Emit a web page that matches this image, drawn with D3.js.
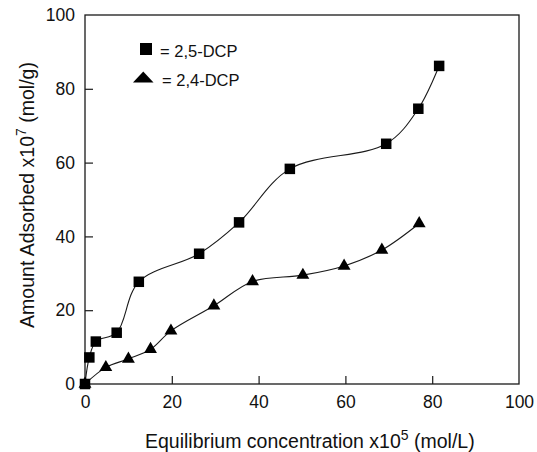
<!DOCTYPE html>
<html>
<head>
<meta charset="utf-8">
<script src="https://cdn.jsdelivr.net/npm/d3@7"></script>
<style>
  html, body { margin: 0; padding: 0; background: #fff; }
  svg text { font-family: "Liberation Sans", Arial, sans-serif; fill: #111; }
</style>
</head>
<body>
<svg id="chart" width="537" height="452"></svg>
<script>
// 2,5-DCP adsorption isotherm
const dcp25X = [0, 1.0, 2.5, 7.3, 12.4, 26.3, 35.5, 47.2, 69.4, 76.8, 81.6];
const dcp25Y = [0, 7.2, 11.5, 13.9, 27.7, 35.3, 43.8, 58.3, 65.1, 74.6, 86.2];
// 2,4-DCP adsorption isotherm
const dcp24X = [0, 4.8, 10.0, 15.1, 19.8, 29.7, 38.6, 50.2, 59.7, 68.4, 77.0];
const dcp24Y = [0, 4.5, 6.8, 9.4, 14.4, 21.2, 27.8, 29.5, 32.0, 36.3, 43.5];

const xTicks = [0, 20, 40, 60, 80, 100];
const yTicks = [0, 20, 40, 60, 80, 100];
const legendLabels = ["= 2,5-DCP", "= 2,4-DCP"];

const svg = d3.select("#chart");
const plotL = 85, plotR = 519, plotT = 15, plotB = 384;

const x = d3.scaleLinear().domain([0, 100]).range([plotL, plotR]);
const y = d3.scaleLinear().domain([0, 100]).range([plotB, plotT]);

const ink = "#1a1a1a";
const font = "'Liberation Sans', Arial, sans-serif";

// frame
svg.append("rect")
  .attr("x", plotL).attr("y", plotT)
  .attr("width", plotR - plotL).attr("height", plotB - plotT)
  .attr("fill", "none").attr("stroke", ink).attr("stroke-width", 1.3);

// inward ticks
const xAxis = d3.axisBottom(x).tickValues(xTicks).tickSize(-8).tickPadding(12).tickFormat(d3.format("d"));
const gx = svg.append("g").attr("transform", `translate(0,${plotB})`).call(xAxis);
gx.select(".domain").remove();
gx.selectAll(".tick line").attr("stroke", ink).attr("stroke-width", 1.2)
  .style("display", d => (d === 0 || d === 100) ? "none" : null);
gx.selectAll(".tick text").attr("font-size", 17.5).attr("fill", "#111").style("font-family", font);

const yAxis = d3.axisLeft(y).tickValues(yTicks).tickSize(-8).tickPadding(10).tickFormat(d3.format("d"));
const gy = svg.append("g").attr("transform", `translate(${plotL},0)`).call(yAxis);
gy.select(".domain").remove();
gy.selectAll(".tick line").attr("stroke", ink).attr("stroke-width", 1.2)
  .style("display", d => (d === 0 || d === 100) ? "none" : null);
gy.selectAll(".tick text").attr("font-size", 17.5).attr("fill", "#111").style("font-family", font);

// axis titles
const xt = svg.append("text").attr("x", 145).attr("y", 448).attr("font-size", 19.5);
xt.append("tspan").text("Equilibrium concentration x10");
xt.append("tspan").attr("dy", -8).attr("font-size", 14).text("5");
xt.append("tspan").attr("dy", 8).text(" (mol/L)");

const yt = svg.append("text")
  .attr("transform", "translate(34,195) rotate(-90)")
  .attr("text-anchor", "middle")
  .attr("font-size", 19.5);
yt.append("tspan").text("Amount Adsorbed x10");
yt.append("tspan").attr("dy", -8).attr("font-size", 14).text("7");
yt.append("tspan").attr("dy", 8).text(" (mol/g)");

// curves
const line = d3.line()
  .x(d => x(d[0])).y(d => y(d[1]))
  .curve(d3.curveCatmullRom.alpha(0.5));

const s25 = dcp25X.map((v, i) => [v, dcp25Y[i]]);
const s24 = dcp24X.map((v, i) => [v, dcp24Y[i]]);

[s25, s24].forEach(s => {
  svg.append("path").attr("d", line(s))
    .attr("fill", "none").attr("stroke", ink).attr("stroke-width", 1.1);
});

// markers
const sq = 10.5;
svg.append("g").selectAll("rect").data(s25).join("rect")
  .attr("x", d => x(d[0]) - sq / 2).attr("y", d => y(d[1]) - sq / 2)
  .attr("width", sq).attr("height", sq).attr("fill", "#000");

const tri = d3.symbol().type(d3.symbolTriangle).size(72);
svg.append("g").selectAll("path").data(s24).join("path")
  .attr("d", tri)
  .attr("transform", d => `translate(${x(d[0])},${y(d[1])})`)
  .attr("fill", "#000");

// legend
svg.append("rect").attr("x", 140).attr("y", 43).attr("width", 12).attr("height", 12).attr("fill", "#000");
svg.append("text").attr("x", 160).attr("y", 57).attr("font-size", 16.5).text(legendLabels[0]);
svg.append("path").attr("d", "M133,82.5 L153.5,82.5 L143.25,71.5 Z").attr("fill", "#000");
svg.append("text").attr("x", 162).attr("y", 86).attr("font-size", 16.5).text(legendLabels[1]);
</script>
</body>
</html>
